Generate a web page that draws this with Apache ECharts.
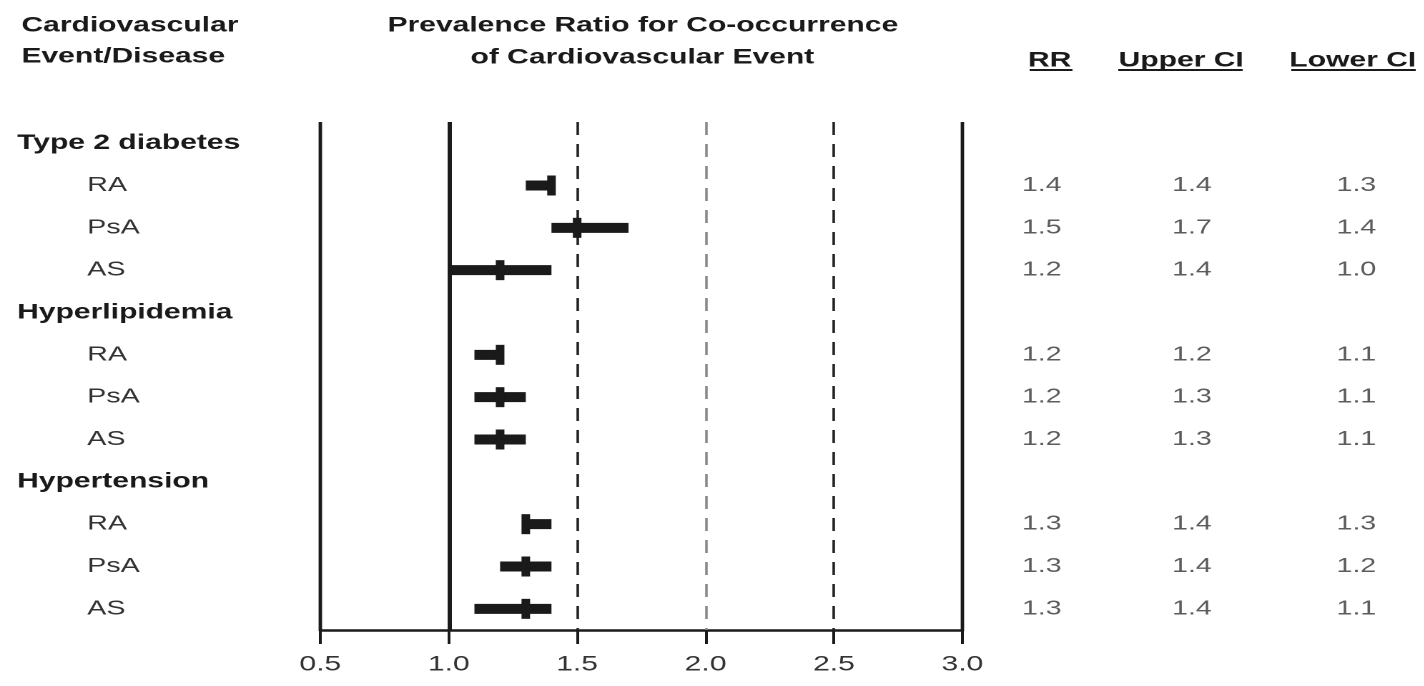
<!DOCTYPE html>
<html>
<head>
<meta charset="utf-8">
<script src="https://cdn.jsdelivr.net/npm/echarts@6/dist/echarts.min.js"></script>
<style>
html, body { margin: 0; padding: 0; background: #fff; overflow: hidden; }
#wrap { width: 1424px; height: 686px; overflow: hidden; }
/* the source figure is stretched horizontally, so draw narrow and stretch */
#chart { width: 996px; height: 686px; transform: scaleX(1.43); transform-origin: 0 0; }
</style>
</head>
<body>
<div id="wrap"><div id="chart"></div></div>
<script>
const groups = ['Type 2 diabetes', 'Hyperlipidemia', 'Hypertension']
const subgroups = ['RA', 'PsA', 'AS']
const rrValues = [[1.4, 1.5, 1.2], [1.2, 1.2, 1.2], [1.3, 1.3, 1.3]]
const upperCI = [[1.4, 1.7, 1.4], [1.2, 1.3, 1.3], [1.4, 1.4, 1.4]]
const lowerCI = [[1.3, 1.4, 1.0], [1.1, 1.1, 1.1], [1.3, 1.2, 1.1]]
const tableColumns = ['RR', 'Upper CI', 'Lower CI']
const solidLines = [0.5, 1.0, 3.0]
const dashedLines = [1.5, 2.0, 2.5]

const FONT = 'Liberation Sans, Arial, sans-serif'
const INK = '#1a1a1a'

// rows: group heading followed by its three subgroups
let rowLabels = []
let forest = []
let tableRR = []
let tableUp = []
let tableLo = []
groups.forEach(function (g, gi) {
  rowLabels.push(g)
  subgroups.forEach(function (s, si) {
    let row = rowLabels.length
    rowLabels.push(s)
    forest.push([lowerCI[gi][si], upperCI[gi][si], rrValues[gi][si], row])
    tableRR.push([0, row, rrValues[gi][si]])
    tableUp.push([1, row, upperCI[gi][si]])
    tableLo.push([2, row, lowerCI[gi][si]])
  })
})

function renderForest (params, api) {
  let lo = api.coord([api.value(0), api.value(3)])
  let hi = api.coord([api.value(1), api.value(3)])
  let mid = api.coord([api.value(2), api.value(3)])
  return {
    type: 'group',
    children: [
      { type: 'rect', shape: { x: lo[0], y: lo[1] - 5, width: hi[0] - lo[0], height: 10 }, style: { fill: INK } },
      { type: 'rect', shape: { x: mid[0] - 3, y: mid[1] - 10, width: 6, height: 20 }, style: { fill: INK } }
    ]
  }
}

function tableSeries (data, dx) {
  return {
    type: 'scatter',
    xAxisIndex: 1,
    yAxisIndex: 1,
    symbolSize: 0,
    silent: true,
    data: data,
    label: {
      show: true,
      position: 'inside',
      offset: [dx, 0],
      fontFamily: FONT,
      fontSize: 20,
      color: '#333',
      formatter: function (p) { return p.value[2].toFixed(1) }
    }
  }
}

const headStyle = { fontFamily: FONT, fontSize: 21, fontWeight: 'bold', color: INK, lineHeight: 31 }

const options = {
  animation: false,
  backgroundColor: '#fff',
  title: [
    { text: 'Cardiovascular\nEvent/Disease', left: 10, top: 5, textStyle: headStyle },
    { text: 'Prevalence Ratio for Co-occurrence', left: 266, top: 5, textStyle: headStyle },
    { text: 'of Cardiovascular Event', left: 324, top: 37, textStyle: headStyle }
  ],
  grid: [
    { left: 224, width: 449, top: 122, bottom: 56 },
    { left: 676, width: 315, top: 122, bottom: 56 }
  ],
  xAxis: [
    {
      type: 'value',
      gridIndex: 0,
      min: 0.5,
      max: 3.0,
      interval: 0.5,
      axisLine: { show: true, onZero: false, lineStyle: { color: INK, width: 2.5 } },
      axisTick: { show: true, length: 14, lineStyle: { color: INK, width: 2 } },
      axisLabel: {
        margin: 24,
        fontFamily: FONT,
        fontSize: 21,
        color: '#333',
        formatter: function (v) { return v.toFixed(1) }
      },
      splitLine: { show: false }
    },
    {
      type: 'category',
      gridIndex: 1,
      position: 'top',
      data: tableColumns,
      axisLine: { show: false },
      axisTick: { show: false },
      axisLabel: {
        margin: 51,
        formatter: function (v, i) { return '{h' + i + '|' + v + '}' },
        rich: {
          h0: { fontFamily: FONT, fontSize: 21, fontWeight: 'bold', color: INK, padding: [0, 0, 0, 11] },
          h1: { fontFamily: FONT, fontSize: 21, fontWeight: 'bold', color: INK, padding: [0, 15, 0, 0] },
          h2: { fontFamily: FONT, fontSize: 21, fontWeight: 'bold', color: INK, padding: [0, 0, 0, 15] }
        }
      },
      splitLine: { show: false }
    }
  ],
  yAxis: [
    {
      type: 'category',
      gridIndex: 0,
      inverse: true,
      data: rowLabels,
      axisLine: { show: false },
      axisTick: { show: false },
      axisLabel: {
        interval: 0,
        align: 'left',
        margin: 212,
        formatter: function (v) {
          return groups.indexOf(v) >= 0 ? '{g|' + v + '}' : '{s|' + v + '}'
        },
        rich: {
          g: { fontFamily: FONT, fontSize: 21, fontWeight: 'bold', color: INK },
          s: { fontFamily: FONT, fontSize: 20, color: '#333', padding: [0, 0, 0, 49] }
        }
      },
      splitLine: { show: false }
    },
    {
      type: 'category',
      gridIndex: 1,
      inverse: true,
      data: rowLabels,
      show: false
    }
  ],
  series: [
    {
      type: 'line',
      xAxisIndex: 0,
      yAxisIndex: 0,
      data: [],
      silent: true,
      markLine: {
        silent: true,
        symbol: ['none', 'none'],
        label: { show: false },
        data: solidLines.map(function (v) {
          return { xAxis: v, lineStyle: { type: 'solid', color: INK, width: v === 1.0 ? 3 : 2.4 } }
        }).concat(dashedLines.map(function (v) {
          return { xAxis: v, lineStyle: { type: [13, 9], color: v === 2.0 ? '#8a8a8a' : '#222', width: 1.8 } }
        }))
      }
    },
    {
      type: 'custom',
      xAxisIndex: 0,
      yAxisIndex: 0,
      silent: true,
      renderItem: renderForest,
      encode: { x: [0, 1, 2], y: 3 },
      data: forest,
      z: 5
    },
    tableSeries(tableRR, 0),
    tableSeries(tableUp, 0),
    tableSeries(tableLo, 10)
  ],
  graphic: [
    { type: 'rect', shape: { x: 720, y: 69, width: 30, height: 2 }, style: { fill: INK } },
    { type: 'rect', shape: { x: 782, y: 69, width: 87, height: 2 }, style: { fill: INK } },
    { type: 'rect', shape: { x: 903, y: 69, width: 87, height: 2 }, style: { fill: INK } }
  ]
}

let chart = echarts.init(document.getElementById('chart'), null, { devicePixelRatio: 2 })
chart.setOption(options)
</script>
</body>
</html>
